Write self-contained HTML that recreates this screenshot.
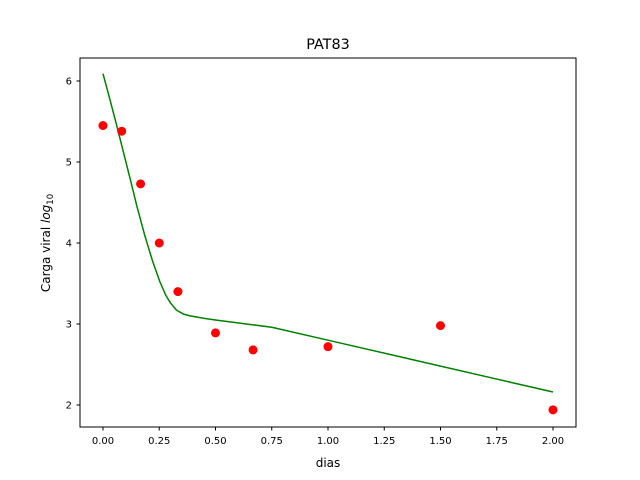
<!DOCTYPE html>
<html><head><meta charset="utf-8"><style>body{margin:0;background:#fff}svg{display:block}text{font-family:"DejaVu Sans","Liberation Sans",sans-serif;fill:#000}</style></head>
<body>
<svg id="chart" width="640" height="480">
<rect x="0" y="0" width="640" height="480" fill="#fff"/>
<text x="328" y="49" font-size="14.4" text-anchor="middle">PAT83</text>
<text x="328" y="467" font-size="12" text-anchor="middle">dias</text>
<text transform="translate(50,243) rotate(-90)" font-size="12" text-anchor="middle">Carga viral <tspan font-style="italic">log</tspan><tspan font-size="8.5" dy="3">10</tspan></text>
<g id="ticks"></g>
<g id="marks"></g>
<rect x="80" y="58" width="496" height="369" fill="none" stroke="#000" stroke-width="1"/>
</svg>
<script>
const xTicks=[0,0.25,0.5,0.75,1,1.25,1.5,1.75,2];
const xTickLabels=["0.00","0.25","0.50","0.75","1.00","1.25","1.50","1.75","2.00"];
const yTicks=[2,3,4,5,6];
const pointDays=[0,0.083,0.167,0.25,0.333,0.5,0.667,1,1.5,2];
const pointValues=[5.45,5.38,4.73,4.0,3.4,2.89,2.68,2.72,2.98,1.94];
const curveDays=[0,0.03,0.06,0.09,0.12,0.15,0.187,0.22,0.253,0.28,0.3,0.327,0.36,0.387,0.45,0.5,0.75,1,1.25,1.5,1.75,2];
const curveValues=[6.09,5.78,5.46,5.13,4.80,4.46,4.08,3.78,3.52,3.35,3.26,3.17,3.12,3.10,3.07,3.05,2.96,2.80,2.64,2.48,2.32,2.16];
const NS="http://www.w3.org/2000/svg";
const xs=v=>103+v*225;
const ys=v=>81+(6-v)*81;
const tg=document.getElementById('ticks'),mg=document.getElementById('marks');
function mk(t,a,p){const e=document.createElementNS(NS,t);for(const k in a)e.setAttribute(k,a[k]);p.appendChild(e);return e;}
xTicks.forEach((v,i)=>{
 const l=mk('line',{x1:xs(v),x2:xs(v),y1:427,y2:430.5,stroke:'#000'},tg);
 
 
 const t=mk('text',{x:xs(v),y:444,'font-size':10,'text-anchor':'middle'},tg);t.textContent=xTickLabels[i];
 
 
});
yTicks.forEach(v=>{
 const l=mk('line',{x1:76.5,x2:80,y1:ys(v),y2:ys(v),stroke:'#000'},tg);
 
 
 const t=mk('text',{x:72,y:ys(v)+3.5,'font-size':10,'text-anchor':'end'},tg);t.textContent=String(v);
 
 
});
const pl=mk('polyline',{points:curveDays.map((d,i)=>xs(d)+','+ys(curveValues[i])).join(' '),fill:'none',stroke:'#008000','stroke-width':1.5,'stroke-linejoin':'round'},mg);


pointDays.forEach((d,i)=>{
 const c=mk('circle',{cx:xs(d),cy:ys(pointValues[i]),r:4.5,fill:'#ff0000'},mg);
 
 
});
</script>
</body></html>
